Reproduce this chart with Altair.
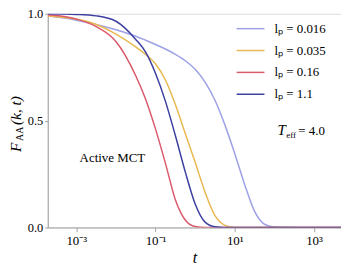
import altair as alt
import pandas as pd

# log10(t) grid
log_t = [-3.72, -3, -2.5, -2, -1.5, -1.25, -1, -0.75, -0.5, -0.25, 0, 0.25,
         0.5, 0.75, 1, 1.25, 1.5, 1.75, 2, 2.5, 3, 3.68]

f_016 = [0.99, 0.97, 0.95, 0.925, 0.895, 0.876, 0.856, 0.835, 0.81, 0.78, 0.74, 0.68,
         0.595, 0.48, 0.345, 0.20, 0.075, 0.015, 0.002, 0, 0, 0]
f_035 = [0.99, 0.975, 0.95, 0.905, 0.845, 0.81, 0.765, 0.69, 0.575, 0.44, 0.305, 0.165,
         0.055, 0.01, 0, 0, 0, 0, 0, 0, 0, 0]
f_16 = [0.995, 0.975, 0.94, 0.87, 0.71, 0.60, 0.46, 0.30, 0.13, 0.035, 0.004, 0,
        0, 0, 0, 0, 0, 0, 0, 0, 0, 0]
f_11 = [1.0, 0.997, 0.99, 0.965, 0.88, 0.82, 0.72, 0.59, 0.43, 0.26, 0.11, 0.025,
        0.003, 0, 0, 0, 0, 0, 0, 0, 0, 0]

labels = ["lₚ = 0.016", "lₚ = 0.035", "lₚ = 0.16", "lₚ = 1.1"]
colors = ["#9da1e6", "#e9b850", "#da5a6c", "#3d40a0"]
series = [f_016, f_035, f_16, f_11]

rows = []
for lab, vals in zip(labels, series):
    for lt, v in zip(log_t, vals):
        rows.append({"t": 10 ** lt, "F": v, "lp": lab})
df = pd.DataFrame(rows)

x_ticks = [1e-3, 1e-1, 1e1, 1e3]
x_tick_labels = ["10⁻³", "10⁻¹", "10¹", "10³"]
y_ticks = [0.0, 0.5, 1.0]

SERIF = "Liberation Serif"
GRAY = "#a0a0a0"

label_expr = " : ".join(
    [f"datum.value < {v*1.5} ? '{s}'" for v, s in zip(x_ticks[:-1], x_tick_labels[:-1])]
) + f" : '{x_tick_labels[-1]}'"

lines = alt.Chart(df).mark_line(strokeWidth=1.5, interpolate="monotone", clip=True).encode(
    x=alt.X("t:Q", scale=alt.Scale(type="log", domain=[10 ** -3.72, 10 ** 3.68], nice=False),
            axis=alt.Axis(values=x_ticks, labelExpr=label_expr, title="t",
                          titleFontStyle="italic", titleFontWeight="normal", titleFont=SERIF,
                          titleFontSize=16, titleColor="black", titlePadding=2,
                          labelFont=SERIF, labelFontSize=13, labelColor="black",
                          labelPadding=3, tickSize=4, tickColor=GRAY, domainColor=GRAY,
                          grid=False)),
    y=alt.Y("F:Q", scale=alt.Scale(domain=[0, 1], nice=False),
            axis=alt.Axis(values=y_ticks, format=".1f", title=None,
                          labelFont=SERIF, labelFontSize=12.5, labelColor="black",
                          labelPadding=2, tickSize=3, tickColor=GRAY, domainColor=GRAY,
                          grid=False)),
    color=alt.Color("lp:N", scale=alt.Scale(domain=labels, range=colors),
                    legend=alt.Legend(title=None, orient="none", legendX=189, legendY=0,
                                      symbolType="stroke", symbolSize=784, symbolStrokeWidth=1.5,
                                      labelFont=SERIF, labelFontSize=13, labelColor="black",
                                      labelOffset=9, rowPadding=-8, padding=0)),
)


def txt(s, x, y, size, style="normal", angle=0, align="left"):
    return alt.Chart(pd.DataFrame({"s": [s]})).mark_text(
        font=SERIF, fontSize=size, fontStyle=style, angle=angle, align=align,
        baseline="alphabetic", color="black"
    ).encode(x=alt.value(x), y=alt.value(y), text="s:N")


# plot origin is at page (48, 13)
annos = [
    txt("Active MCT", 65, 149, 13, align="center"),
    txt("T", 231, 122, 15, style="italic"),
    txt("eff", 240, 125, 9),
    txt("= 4.0", 252, 122, 13),
    txt("F", -27, 139, 15.5, style="italic", angle=270),
    txt("AA", -25, 128, 10, angle=270),
    txt("(k, t)", -27, 112, 15.5, style="italic", angle=270),
]

chart = alt.layer(lines, *annos).properties(
    width=295, height=215, autosize="none",
    padding={"left": 40, "top": 5, "right": 0, "bottom": 40},
).configure_view(stroke=GRAY, strokeWidth=1.2).configure(background="white")

chart.save("out.html", embed_options={"renderer": "svg", "actions": False})
